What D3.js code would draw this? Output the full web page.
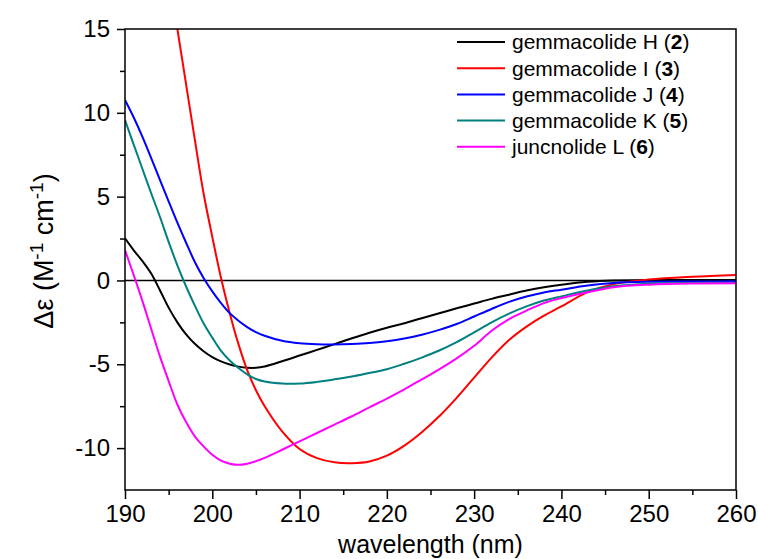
<!DOCTYPE html>
<html>
<head>
<meta charset="utf-8">
<script src="https://cdn.jsdelivr.net/npm/d3@7"></script>
<style>
  body { margin: 0; background: #fff; }
  svg text { font-family: "Liberation Sans", Arial, sans-serif; fill: #000; }
</style>
</head>
<body>
<div id="chart"></div>
<script>
// wavelength grid (nm)
var wavelengths = [190, 191, 192, 193, 194, 195, 196, 197, 198, 199, 200, 201, 202, 203, 204, 205, 206,
  208, 210, 212, 214, 216, 218, 220, 222, 224, 226, 228, 230, 232, 234, 236, 238, 240, 243, 246, 250, 255, 260];

// Δε values
var gemH = [2.51, 1.8, 1.15, 0.41, -0.58, -1.62, -2.5, -3.22, -3.78, -4.22, -4.57, -4.83, -5.01, -5.14, -5.21, -5.21, -5.13,
  -4.82, -4.48, -4.14, -3.8, -3.45, -3.12, -2.82, -2.55, -2.25, -1.96, -1.66, -1.38, -1.1, -0.85, -0.6, -0.4, -0.25, -0.08, 0.0, 0.02, 0.03, 0.03];
var gemI = [null, null, null, null, null, 18.3, 15.0, 11.7, 8.4, 5.2, 2.6, 0.15, -1.95, -3.8, -5.35, -6.55, -7.5,
  -9.0, -10.05, -10.6, -10.85, -10.9, -10.8, -10.45, -9.85, -9.05, -8.1, -7.0, -5.8, -4.6, -3.55, -2.75, -2.1, -1.55, -0.7, -0.22, 0.05, 0.22, 0.33];
var gemJ = [10.76, 9.72, 8.57, 7.3, 6.0, 4.72, 3.45, 2.25, 1.1, 0.15, -0.65, -1.35, -1.95, -2.4, -2.78, -3.08, -3.3,
  -3.6, -3.75, -3.81, -3.82, -3.79, -3.73, -3.62, -3.46, -3.24, -2.95, -2.6, -2.15, -1.7, -1.28, -0.96, -0.72, -0.55, -0.3, -0.15, -0.08, -0.06, -0.05];
var gemK = [9.57, 8.1, 6.65, 5.2, 3.8, 2.3, 0.9, -0.36, -1.5, -2.55, -3.41, -4.2, -4.77, -5.22, -5.6, -5.88, -6.03,
  -6.15, -6.15, -6.05, -5.9, -5.73, -5.52, -5.3, -4.97, -4.6, -4.18, -3.68, -3.1, -2.5, -1.98, -1.55, -1.2, -0.95, -0.6, -0.35, -0.2, -0.15, -0.13];
var juncL = [1.81, 0.32, -1.23, -2.88, -4.53, -6.0, -7.4, -8.45, -9.3, -9.9, -10.4, -10.75, -10.93, -11.0, -10.93, -10.78, -10.58,
  -10.1, -9.6, -9.1, -8.6, -8.1, -7.57, -7.05, -6.5, -5.9, -5.3, -4.65, -3.9, -3.0, -2.3, -1.8, -1.35, -1.05, -0.7, -0.4, -0.25, -0.18, -0.16];

var seriesNames = ["gemmacolide H", "gemmacolide I", "gemmacolide J", "gemmacolide K", "juncnolide L"];
var seriesNums = ["2", "3", "4", "5", "6"];
var seriesColors = ["#000000", "#ff0000", "#0000ff", "#008080", "#ff00ff"];
var seriesValues = [gemH, gemI, gemJ, gemK, juncL];

var xTicks = [190, 200, 210, 220, 230, 240, 250, 260];
var yTicks = [-10, -5, 0, 5, 10, 15];

var W = 758, H = 559;
var margin = {top: 29, right: 22, bottom: 69, left: 125},
    width = W - margin.left - margin.right,
    height = H - margin.top - margin.bottom;

var svg = d3.select("#chart").append("svg")
  .attr("width", W)
  .attr("height", H);

var g = svg.append("g")
  .attr("transform", "translate(" + margin.left + "," + margin.top + ")");

// Scales
var x = d3.scaleLinear().domain([190, 260]).range([0, width]);
var y = d3.scaleLinear().domain([-12.5, 15]).range([height, 0]);

g.append("clipPath").attr("id", "plotclip")
  .append("rect").attr("width", width).attr("height", height);

// zero line
g.append("line")
  .attr("x1", 0).attr("x2", width)
  .attr("y1", y(0)).attr("y2", y(0))
  .attr("stroke", "#000").attr("stroke-width", 1.5);

// curves
var line = d3.line()
  .defined(function(d) { return d[1] != null; })
  .curve(d3.curveCatmullRom.alpha(0.5))
  .x(function(d) { return x(d[0]); })
  .y(function(d) { return y(d[1]); });

var data = seriesValues.map(function(vals) {
  return wavelengths.map(function(w, i) { return [w, vals[i]]; });
});

g.append("g").attr("clip-path", "url(#plotclip)")
  .selectAll(".line").data(data).enter()
  .append("path")
  .attr("class", "line")
  .attr("d", line)
  .attr("fill", "none")
  .attr("stroke", function(d, i) { return seriesColors[i]; })
  .attr("stroke-width", 2);

// Axes (plain hyphen for negatives, like the original)
var fmt = function(d) { return String(d); };
var xAxis = d3.axisBottom(x).tickValues(xTicks).tickSize(9).tickPadding(6).tickFormat(fmt);
var xMinor = d3.axisBottom(x).tickValues(d3.range(195, 260, 10)).tickSize(5).tickFormat("");
var yAxis = d3.axisLeft(y).tickValues(yTicks).tickSize(8).tickPadding(7).tickFormat(fmt);
var yMinor = d3.axisLeft(y).tickValues([-7.5, -2.5, 2.5, 7.5, 12.5]).tickSize(5).tickFormat("");

function styleAxis(sel) {
  sel.select(".domain").remove();
  sel.selectAll("line").attr("stroke", "#000").attr("stroke-width", 1.5);
  sel.selectAll("text").style("font-size", "24px").attr("fill", "#000");
}

g.append("g").attr("transform", "translate(0," + height + ")").call(xAxis).call(styleAxis);
g.append("g").attr("transform", "translate(0," + height + ")").call(xMinor).call(styleAxis);
g.append("g").call(yAxis).call(styleAxis);
g.append("g").call(yMinor).call(styleAxis);

// frame
g.append("rect")
  .attr("width", width).attr("height", height)
  .attr("fill", "none").attr("stroke", "#000").attr("stroke-width", 1.5);

// axis titles
g.append("text")
  .attr("x", width / 2).attr("y", height + 63)
  .attr("text-anchor", "middle")
  .style("font-size", "25px")
  .text("wavelength (nm)");

var yt = svg.append("text")
  .attr("transform", "translate(53,251) rotate(-90)")
  .attr("text-anchor", "middle")
  .style("font-size", "27px");
yt.append("tspan").text("\u0394\u03b5 (M");
yt.append("tspan").attr("dy", -10).style("font-size", "19px").text("-1");
yt.append("tspan").attr("dy", 10).text(" cm");
yt.append("tspan").attr("dy", -10).style("font-size", "19px").text("-1");
yt.append("tspan").attr("dy", 10).text(")");

// legend
var legend = svg.append("g").attr("transform", "translate(457,42)");
var rows = legend.selectAll(".row").data(seriesNames).enter()
  .append("g")
  .attr("transform", function(d, i) { return "translate(0," + i * 26.2 + ")"; });
rows.append("line")
  .attr("x1", 0).attr("x2", 48)
  .attr("stroke", function(d, i) { return seriesColors[i]; })
  .attr("stroke-width", 2);
var lt = rows.append("text")
  .attr("x", 55).attr("dy", "0.35em")
  .style("font-size", "21px");
lt.append("tspan").text(function(d) { return d + " ("; });
lt.append("tspan").style("font-weight", "bold").text(function(d, i) { return seriesNums[i]; });
lt.append("tspan").text(")");
</script>
</body>
</html>
